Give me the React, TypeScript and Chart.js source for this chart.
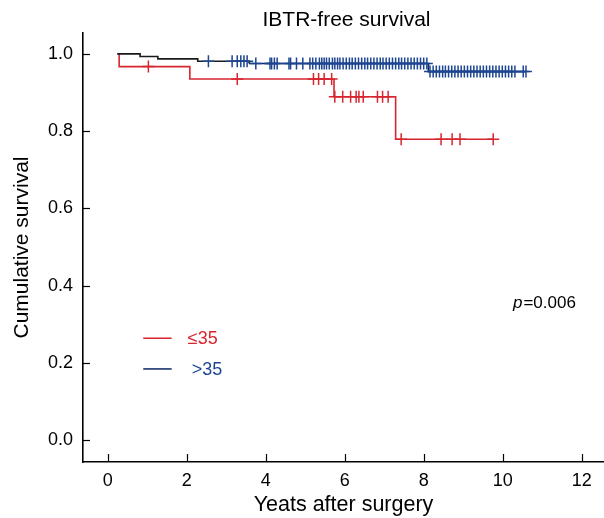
import React, { useEffect, useRef } from 'react';
import { Chart, registerables } from 'chart.js';

Chart.register(...registerables);

// ---- data ----
const TITLE = 'IBTR-free survival';
const X_TITLE = 'Yeats after surgery';
const Y_TITLE = 'Cumulative survival';
const X_TICKS = [0, 2, 4, 6, 8, 10, 12];
const Y_TICKS = [0, 0.2, 0.4, 0.6, 0.8, 1.0];

const LABEL_LE35 = '≤35';
const LABEL_GT35 = '>35';
const P_LABEL = 'p';
const P_VALUE = '=0.006';

// ≤35 group
const LE35_START = 0.29;
const LE35_EVENT_TIMES = [0.29, 2.08, 5.73, 7.29];
const LE35_EVENT_SURV = [0.967, 0.935, 0.889, 0.779];
const LE35_CENSOR = [1.03, 3.28, 5.21, 5.34, 5.48, 5.67, 5.75, 5.95, 6.15, 6.29, 6.36, 6.47, 6.83, 6.96, 7.1, 7.43, 8.44, 8.72, 8.92, 9.76];

// >35 group
const GT35_START = 0.24;
const GT35_EVENT_TIMES = [0.82, 1.27, 2.28, 3.58, 8.12];
const GT35_EVENT_SURV = [0.993, 0.987, 0.981, 0.975, 0.954];
const GT35_CENSOR = [
  2.55, 3.15, 3.28, 3.37, 3.45, 3.53, 3.75, 4.11, 4.15, 4.22, 4.29, 4.59, 4.63, 4.78, 4.94,
  5.12, 5.19, 5.27, 5.36, 5.42, 5.48, 5.54, 5.61, 5.69, 5.75, 5.82, 5.88, 5.96, 6.04, 6.12,
  6.19, 6.27, 6.35, 6.43, 6.51, 6.58, 6.66, 6.74, 6.82, 6.9, 6.97, 7.05, 7.13, 7.21, 7.29,
  7.37, 7.44, 7.52, 7.6, 7.68, 7.76, 7.84, 7.92, 8.0, 8.08, 8.16, 8.24, 8.32, 8.4, 8.48,
  8.55, 8.63, 8.71, 8.79, 8.87, 8.95, 9.03, 9.11, 9.19, 9.27, 9.35, 9.43, 9.51, 9.59, 9.67,
  9.75, 9.83, 9.91, 9.99, 10.07, 10.15, 10.23, 10.31, 10.52, 10.59,
];

const RED = '#d7262f';
const BLUE = '#1d4591';
const NAVY = '#0b2766';
const DARK = '#1a1a1a';
const FONT = '"Liberation Sans", Arial, Helvetica, sans-serif';

function survAt(times: number[], surv: number[], t: number) {
  let s = 1;
  for (let i = 0; i < times.length; i++) if (times[i] <= t) s = surv[i];
  return s;
}

function curvePoints(start: number, times: number[], surv: number[], censor: number[]) {
  const pts = [{ x: start, y: 1 }];
  times.forEach((t, i) => pts.push({ x: t, y: surv[i] }));
  const end = Math.max(...censor, ...times);
  pts.push({ x: end, y: survAt(times, surv, end) });
  return pts;
}

function censorPoints(times: number[], surv: number[], censor: number[]) {
  return censor.map((t) => ({ x: t, y: survAt(times, surv, t) }));
}

const decorPlugin = {
  id: 'decor',
  afterDraw(chart: any) {
    const { ctx, chartArea, scales } = chart;
    const xs = scales.x;
    const ys = scales.y;
    ctx.save();
    // inward tick marks
    ctx.strokeStyle = '#000';
    ctx.lineWidth = 1.2;
    X_TICKS.forEach((v) => {
      const px = Math.round(xs.getPixelForValue(v)) + 0.5;
      ctx.beginPath();
      ctx.moveTo(px, chartArea.bottom);
      ctx.lineTo(px, chartArea.bottom - 8);
      ctx.stroke();
    });
    Y_TICKS.forEach((v) => {
      const py = Math.round(ys.getPixelForValue(v)) + 0.5;
      ctx.beginPath();
      ctx.moveTo(chartArea.left, py);
      ctx.lineTo(chartArea.left + 7, py);
      ctx.stroke();
    });
    // title
    ctx.fillStyle = '#000';
    ctx.font = `21px ${FONT}`;
    ctx.textAlign = 'center';
    ctx.textBaseline = 'middle';
    ctx.fillText(TITLE, (chartArea.left + chartArea.right) / 2 + 3, 20);

    // legend
    const lx0 = xs.getPixelForValue(0.9);
    const lx1 = xs.getPixelForValue(1.62);
    const yr = ys.getPixelForValue(0.2635);
    const yb = ys.getPixelForValue(0.184);
    ctx.lineWidth = 1.5;
    ctx.strokeStyle = RED;
    ctx.beginPath();
    ctx.moveTo(lx0, yr);
    ctx.lineTo(lx1, yr);
    ctx.stroke();
    ctx.strokeStyle = NAVY;
    ctx.beginPath();
    ctx.moveTo(lx0, yb);
    ctx.lineTo(lx1, yb);
    ctx.stroke();
    ctx.font = `18px ${FONT}`;
    ctx.textAlign = 'left';
    ctx.fillStyle = RED;
    ctx.fillText(LABEL_LE35, xs.getPixelForValue(2.03), yr + 1);
    ctx.fillStyle = BLUE;
    ctx.fillText(LABEL_GT35, xs.getPixelForValue(2.13), yb + 1);

    // p value
    ctx.fillStyle = '#000';
    const px = xs.getPixelForValue(10.26);
    const py = ys.getPixelForValue(0.355);
    ctx.font = `italic 17px ${FONT}`;
    ctx.fillText(P_LABEL, px, py);
    const w = ctx.measureText(P_LABEL).width;
    ctx.font = `17px ${FONT}`;
    ctx.fillText(P_VALUE, px + w + 1, py);
    ctx.restore();
  },
};

export default function App() {
  const ref = useRef<HTMLCanvasElement | null>(null);

  useEffect(() => {
    if (!ref.current) return;
    const chart = new Chart(ref.current, {
      type: 'line',
      data: {
        datasets: [
          {
            label: 'gt35-censor',
            data: censorPoints(GT35_EVENT_TIMES, GT35_EVENT_SURV, GT35_CENSOR),
            showLine: false,
            pointStyle: 'cross',
            pointRadius: 6,
            pointBorderWidth: 1.5,
            borderColor: BLUE,
            backgroundColor: BLUE,
          },
          {
            label: 'gt35',
            data: curvePoints(GT35_START, GT35_EVENT_TIMES, GT35_EVENT_SURV, GT35_CENSOR),
            stepped: 'before',
            borderWidth: 1.6,
            borderColor: NAVY,
            pointRadius: 0,
            fill: false,
            segment: {
              borderColor: (c: any) => (c.p0.parsed.x < 3.5 ? DARK : NAVY),
            },
          },
          {
            label: 'le35-censor',
            data: censorPoints(LE35_EVENT_TIMES, LE35_EVENT_SURV, LE35_CENSOR),
            showLine: false,
            pointStyle: 'cross',
            pointRadius: 6,
            pointBorderWidth: 1.5,
            borderColor: RED,
            backgroundColor: RED,
          },
          {
            label: 'le35',
            data: curvePoints(LE35_START, LE35_EVENT_TIMES, LE35_EVENT_SURV, LE35_CENSOR),
            stepped: 'before',
            borderWidth: 1.6,
            borderColor: RED,
            pointRadius: 0,
            fill: false,
          },
        ],
      },
      options: {
        animation: false,
        responsive: false,
        devicePixelRatio: 1,
        layout: { autoPadding: false, padding: { top: 33, left: 0, right: 0, bottom: 0 } },
        plugins: {
          legend: { display: false },
          tooltip: { enabled: false },
          title: { display: false },
        },
        scales: {
          x: {
            type: 'linear',
            min: -0.625,
            max: 12.565,
            afterBuildTicks: (s: any) => {
              s.ticks = X_TICKS.map((v) => ({ value: v }));
            },
            afterFit: (s: any) => {
              s.height = 56;
              s.paddingLeft = 0;
              s.paddingRight = 0;
            },
            grid: { display: false, drawTicks: false },
            border: { display: true, color: '#000', width: 1.6 },
            ticks: {
              padding: 8,
              color: '#000',
              font: { family: FONT, size: 18 },
              maxRotation: 0,
              autoSkip: false,
              callback: (v: any) => String(v),
            },
            title: {
              display: true,
              text: X_TITLE,
              color: '#000',
              font: { family: FONT, size: 21.5 },
              padding: { top: 0, bottom: 0 },
            },
          },
          y: {
            type: 'linear',
            min: -0.057,
            max: 1.054,
            afterBuildTicks: (s: any) => {
              s.ticks = Y_TICKS.map((v) => ({ value: v }));
            },
            afterFit: (s: any) => {
              s.width = 83;
              s.paddingTop = 0;
              s.paddingBottom = 0;
            },
            grid: { display: false, drawTicks: false },
            border: { display: true, color: '#000', width: 1.6 },
            ticks: {
              padding: 10,
              color: '#000',
              font: { family: FONT, size: 18 },
              autoSkip: false,
              callback: (v: any) => Number(v).toFixed(1),
            },
            title: {
              display: true,
              text: Y_TITLE,
              color: '#000',
              font: { family: FONT, size: 21 },
              padding: { top: 10, bottom: 0 },
            },
          },
        },
      },
      plugins: [decorPlugin],
    });
    return () => chart.destroy();
  }, []);

  return (
    <div style={{ position: 'fixed', left: 0, top: 0, width: 604, height: 518, background: '#fff' }}>
      <canvas ref={ref} width={604} height={518} style={{ width: 604, height: 518, display: 'block' }} />
    </div>
  );
}
